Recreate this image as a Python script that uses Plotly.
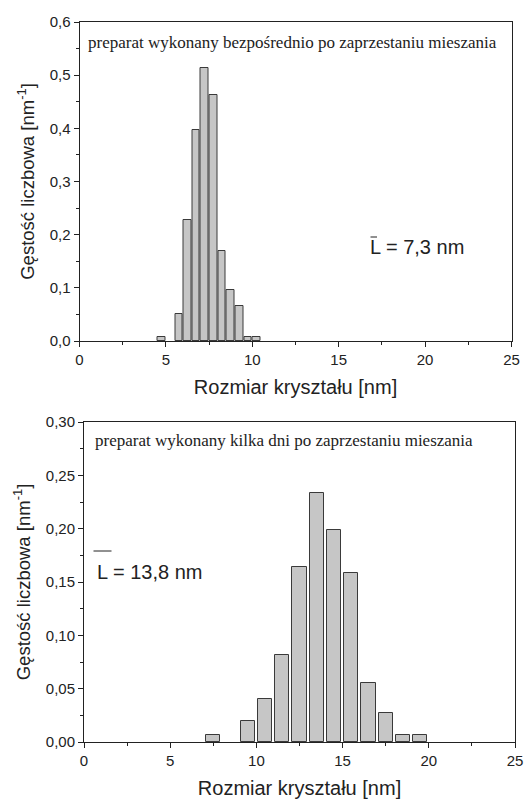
import plotly.graph_objects as go

# Top histogram: prepared right after stopping stirring (bin width 0.5 nm)
top_sizes = [4.75, 5.25, 5.75, 6.25, 6.75, 7.25, 7.75, 8.25, 8.75, 9.25, 9.75, 10.25]
top_density = [0.008, 0.0, 0.051, 0.228, 0.396, 0.514, 0.463, 0.169, 0.096, 0.066, 0.008, 0.008]

# Bottom histogram: prepared a few days after stopping stirring (bin width 1 nm)
bot_sizes = [7.5, 8.5, 9.5, 10.5, 11.5, 12.5, 13.5, 14.5, 15.5, 16.5, 17.5, 18.5, 19.5]
bot_density = [0.007, 0.0, 0.020, 0.040, 0.082, 0.164, 0.233, 0.199, 0.158, 0.055, 0.027, 0.007, 0.007]

x_title = "Rozmiar kryształu [nm]"
y_title = "Gęstość liczbowa [nm<sup>-1</sup>]"
top_note = "preparat wykonany bezpośrednio po zaprzestaniu mieszania"
bot_note = "preparat wykonany kilka dni po zaprzestaniu mieszania"
top_mean = "L = 7,3 nm"
bot_mean = "L = 13,8 nm"

W, H = 525, 801
def px(x):
    return x / W
def py(y):
    return 1 - y / H

bar_fill = "#c6c6c6"
bar_line = "#3a3a3a"
ink = "#222222"

def outline_widths(vals):
    return [1 if v > 0 else 0 for v in vals]

fig = go.Figure()
fig.add_trace(go.Bar(x=top_sizes, y=top_density, width=0.44,
                     marker=dict(color=bar_fill, line=dict(color=bar_line, width=outline_widths(top_density))),
                     xaxis="x", yaxis="y", showlegend=False))
fig.add_trace(go.Bar(x=bot_sizes, y=bot_density, width=0.82,
                     marker=dict(color=bar_fill, line=dict(color=bar_line, width=outline_widths(bot_density))),
                     xaxis="x2", yaxis="y2", showlegend=False))

axis_font = dict(family="Liberation Sans, Arial, sans-serif", size=15, color=ink)
xtitle_font = dict(family="Liberation Sans, Arial, sans-serif", size=20, color=ink)
ytitle_font = dict(family="Liberation Sans, Arial, sans-serif", size=18.5, color=ink)

common_x = dict(range=[0, 25], tickmode="linear", tick0=0, dtick=5,
                ticks="outside", ticklen=5, tickwidth=1, tickcolor=ink,
                minor=dict(ticks="outside", ticklen=3, dtick=2.5, tickcolor=ink),
                showline=True, linecolor=ink, linewidth=1, mirror=True,
                showgrid=False, zeroline=False, tickfont=axis_font, automargin=False,
                title=dict(text=x_title, font=xtitle_font, standoff=12))
common_y = dict(ticks="outside", ticklen=5, tickwidth=1, tickcolor=ink,
                showline=True, linecolor=ink, linewidth=1, mirror=True,
                showgrid=False, zeroline=False, tickfont=axis_font, automargin=False,
                title=dict(text=y_title, font=ytitle_font, standoff=10))

fig.update_layout(
    width=W, height=H,
    margin=dict(l=0, r=0, t=0, b=0, autoexpand=False),
    paper_bgcolor="white", plot_bgcolor="white",
    separators=", ",
    bargap=0,
    xaxis=dict(domain=[px(79.5), px(511.5)], anchor="y", **common_x),
    yaxis=dict(domain=[py(341), py(22)], anchor="x", range=[0, 0.6], dtick=0.1,
               tickformat=".1f", minor=dict(ticks="outside", ticklen=3, dtick=0.05, tickcolor=ink),
               **common_y),
    xaxis2=dict(domain=[px(84), px(515)], anchor="y2", **common_x),
    yaxis2=dict(domain=[py(742), py(422)], anchor="x2", range=[0, 0.30], dtick=0.05,
                tickformat=".2f", minor=dict(ticks="outside", ticklen=3, dtick=0.025, tickcolor=ink),
                **common_y),
)

serif = dict(family="Liberation Serif, Times New Roman, serif", size=17, color=ink)
mean_font = dict(family="Liberation Sans, Arial, sans-serif", size=20, color=ink)

fig.add_annotation(text=top_note, xref="paper", yref="paper", x=px(86), y=py(42),
                   xanchor="left", yanchor="middle", showarrow=False, font=serif)
fig.add_annotation(text=bot_note, xref="paper", yref="paper", x=px(93), y=py(440),
                   xanchor="left", yanchor="middle", showarrow=False, font=serif)
fig.add_annotation(text=top_mean, xref="paper", yref="paper", x=px(368), y=py(247),
                   xanchor="left", yanchor="middle", showarrow=False, font=mean_font)
fig.add_annotation(text=bot_mean, xref="paper", yref="paper", x=px(95), y=py(572),
                   xanchor="left", yanchor="middle", showarrow=False, font=mean_font)
# overlines for the mean symbol L
fig.add_shape(type="line", xref="paper", yref="paper", x0=px(370.5), x1=px(377),
              y0=py(237), y1=py(237), line=dict(color=ink, width=1))
fig.add_shape(type="line", xref="paper", yref="paper", x0=px(93.5), x1=px(111.5),
              y0=py(551), y1=py(551), line=dict(color=ink, width=1))

fig.write_html(
    "out.html",
    config={"displayModeBar": False},
    post_script="document.body.style.margin='0';document.body.style.overflow='hidden';",
)
